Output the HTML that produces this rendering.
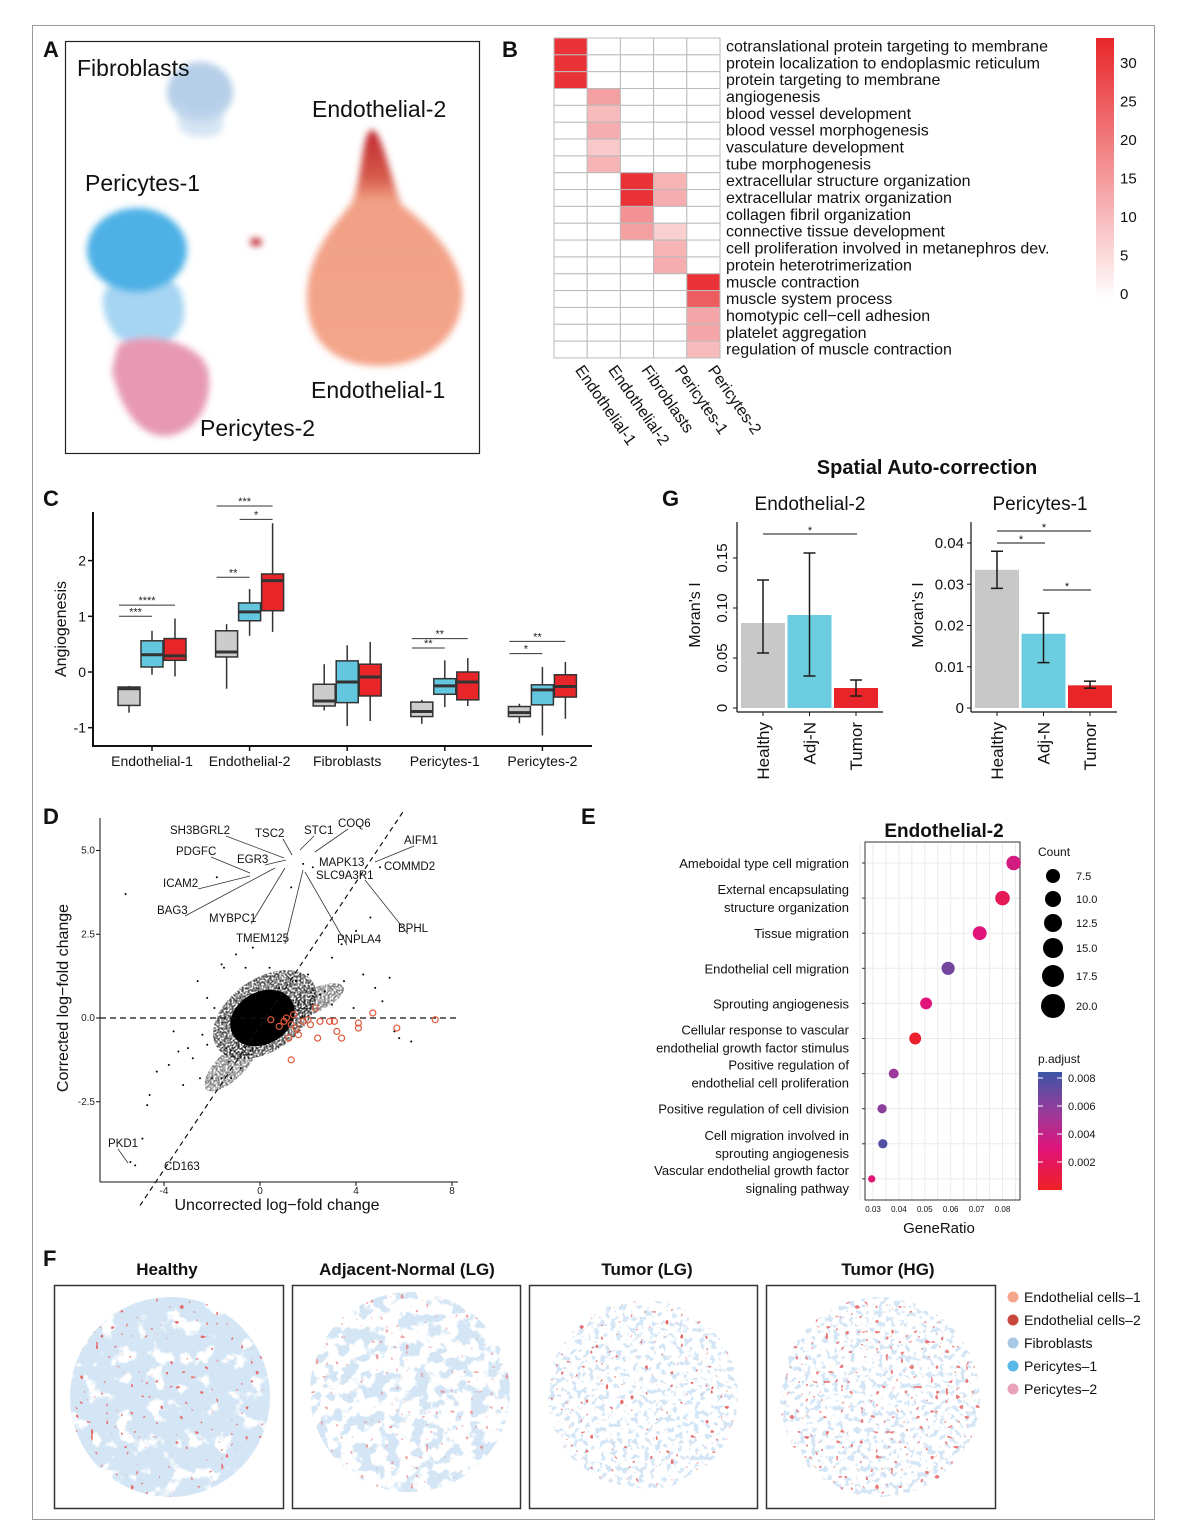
<!DOCTYPE html>
<html><head><meta charset="utf-8"><style>
html,body{margin:0;padding:0;background:#fff}
svg{display:block;font-family:"Liberation Sans",sans-serif}
</style></head><body>
<svg id="fig" width="1181" height="1537" viewBox="0 0 1181 1537" xmlns="http://www.w3.org/2000/svg">
<defs>
<filter id="blur2" x="-20%" y="-20%" width="140%" height="140%"><feGaussianBlur stdDeviation="3.5"/></filter>
<filter id="grain" x="0" y="0" width="100%" height="100%">
 <feTurbulence type="fractalNoise" baseFrequency="0.5" numOctaves="1" seed="4" result="n"/>
 <feColorMatrix in="n" type="matrix" values="0 0 0 0 1 0 0 0 0 1 0 0 0 0 1 -4 0 0 0 2.4" result="w"/>
 <feComposite in="SourceGraphic" in2="w" operator="out"/>
</filter>
<linearGradient id="endo" x1="0" y1="0" x2="0" y2="1">
 <stop offset="0" stop-color="#c0282e"/><stop offset="0.2" stop-color="#d65a4c"/><stop offset="0.3" stop-color="#f2a085"/><stop offset="1" stop-color="#f4a58a"/>
</linearGradient>
<linearGradient id="hmbar" x1="0" y1="0" x2="0" y2="1">
 <stop offset="0" stop-color="#e8262a"/><stop offset="1" stop-color="#ffffff"/>
</linearGradient>
<linearGradient id="pbar" x1="0" y1="0" x2="0" y2="1">
 <stop offset="0" stop-color="#3d55a6"/><stop offset="0.35" stop-color="#9b3a9a"/><stop offset="0.65" stop-color="#e0147a"/><stop offset="1" stop-color="#ee2024"/>
</linearGradient>
<filter id="tissueDense" x="0" y="0" width="100%" height="100%">
 <feTurbulence type="fractalNoise" baseFrequency="0.06" numOctaves="3" seed="7" result="n"/>
 <feColorMatrix in="n" type="matrix" values="0 0 0 0 0.66 0 0 0 0 0.79 0 0 0 0 0.91 9 0 0 0 -2.8" result="b"/>
 <feComposite in="b" in2="SourceGraphic" operator="in"/>
</filter>
<filter id="tissueMid" x="0" y="0" width="100%" height="100%">
 <feTurbulence type="fractalNoise" baseFrequency="0.07" numOctaves="3" seed="11" result="n"/>
 <feColorMatrix in="n" type="matrix" values="0 0 0 0 0.66 0 0 0 0 0.79 0 0 0 0 0.91 12 0 0 0 -5.9" result="b"/>
 <feComposite in="b" in2="SourceGraphic" operator="in"/>
</filter>
<filter id="tissueSparse" x="0" y="0" width="100%" height="100%">
 <feTurbulence type="fractalNoise" baseFrequency="0.18" numOctaves="2" seed="5" result="n"/>
 <feColorMatrix in="n" type="matrix" values="0 0 0 0 0.66 0 0 0 0 0.79 0 0 0 0 0.91 12 0 0 0 -6.6" result="b"/>
 <feComposite in="b" in2="SourceGraphic" operator="in"/>
</filter>
<filter id="redDots" x="0" y="0" width="100%" height="100%">
 <feTurbulence type="fractalNoise" baseFrequency="0.2" numOctaves="1" seed="9" result="n"/>
 <feColorMatrix in="n" type="matrix" values="0 0 0 0 0.8 0 0 0 0 0.15 0 0 0 0 0.15 30 0 0 0 -21" result="b"/>
 <feComposite in="b" in2="SourceGraphic" operator="in"/>
</filter>
<filter id="redDotsMany" x="0" y="0" width="100%" height="100%">
 <feTurbulence type="fractalNoise" baseFrequency="0.2" numOctaves="1" seed="13" result="n"/>
 <feColorMatrix in="n" type="matrix" values="0 0 0 0 0.82 0 0 0 0 0.2 0 0 0 0 0.2 25 0 0 0 -17" result="b"/>
 <feComposite in="b" in2="SourceGraphic" operator="in"/>
</filter>
</defs>
<rect x="32.5" y="25.5" width="1122" height="1494" fill="none" stroke="#999" stroke-width="1"/>

<g font-size="22" font-weight="bold" fill="#111">
<text x="43" y="57">A</text>
<text x="502" y="57">B</text>
<text x="43" y="506">C</text>
<text x="662" y="506">G</text>
<text x="43" y="824">D</text>
<text x="581" y="824">E</text>
<text x="43" y="1266">F</text>
</g>

<g>
<rect x="65.5" y="41.5" width="414" height="412" fill="#fff" stroke="#222" stroke-width="1.2"/>
<g filter="url(#blur2)">
<ellipse cx="200" cy="92" rx="33" ry="30" fill="#b6cfe9"/>
<path d="M174,100 C190,120 215,118 226,100 L222,132 C205,140 190,138 180,130 Z" fill="#c5d9ee" opacity="0.7"/>
<path d="M105,290 C120,275 170,270 180,290 C188,310 185,330 170,340 C150,345 125,345 115,335 C105,320 100,305 105,290 Z" fill="#8fcbef" opacity="0.8"/>
<ellipse cx="137" cy="250" rx="50" ry="42" fill="#4eb1e6"/>
<path d="M118,345 C140,330 200,340 208,370 C215,410 190,435 165,436 C135,436 118,400 112,370 Z" fill="#e799b4"/>
<path d="M372,130 C382,130 392,185 402,205 C432,228 466,262 462,302 C458,342 420,366 380,366 C338,366 308,345 307,300 C306,252 338,222 352,202 C362,182 362,130 372,130 Z" fill="url(#endo)"/>
<ellipse cx="256" cy="242" rx="6" ry="4" fill="#c22a2e"/>
</g>
<g font-size="23" fill="#111">
<text x="77" y="76">Fibroblasts</text>
<text x="312" y="117">Endothelial-2</text>
<text x="85" y="191">Pericytes-1</text>
<text x="311" y="398">Endothelial-1</text>
<text x="200" y="436">Pericytes-2</text>
</g>
</g>

<g id="heatmap"></g>
<g id="boxplot"></g>
<g id="moran"></g>
<g id="scatterD"></g>
<g id="dotE"></g>

<g>
<g font-size="17" fill="#111" text-anchor="middle" font-weight="bold">
<text x="167" y="1275">Healthy</text>
<text x="407" y="1275">Adjacent-Normal (LG)</text>
<text x="647" y="1275">Tumor (LG)</text>
<text x="888" y="1275">Tumor (HG)</text>
</g>
<rect x="54.5" y="1285.5" width="229" height="223" fill="#fff" stroke="#333" stroke-width="1.5"/>
<rect x="292.5" y="1285.5" width="228" height="223" fill="#fff" stroke="#333" stroke-width="1.5"/>
<rect x="529.5" y="1285.5" width="228" height="223" fill="#fff" stroke="#333" stroke-width="1.5"/>
<rect x="766.5" y="1285.5" width="229" height="223" fill="#fff" stroke="#333" stroke-width="1.5"/>
<circle cx="170" cy="1397" r="100" fill="#000" filter="url(#tissueDense)"/>
<circle cx="170" cy="1397" r="100" fill="#000" filter="url(#redDots)"/>
<circle cx="410" cy="1392" r="100" fill="#000" filter="url(#tissueMid)"/>
<circle cx="410" cy="1392" r="100" fill="#000" filter="url(#redDots)" opacity="0.6"/>
<circle cx="643" cy="1395" r="95" fill="#000" filter="url(#tissueSparse)"/>
<circle cx="643" cy="1395" r="95" fill="#000" filter="url(#redDots)"/>
<circle cx="880" cy="1397" r="100" fill="#000" filter="url(#tissueSparse)"/>
<circle cx="880" cy="1397" r="100" fill="#000" filter="url(#redDotsMany)"/>
<g font-size="14" fill="#111">
<circle cx="1013" cy="1297" r="5.5" fill="#f4a58a"/><text x="1024" y="1302">Endothelial cells–1</text>
<circle cx="1013" cy="1320" r="5.5" fill="#c8483e"/><text x="1024" y="1325">Endothelial cells–2</text>
<circle cx="1013" cy="1343" r="5.5" fill="#a9c8e8"/><text x="1024" y="1348">Fibroblasts</text>
<circle cx="1013" cy="1366" r="5.5" fill="#5ab8e8"/><text x="1024" y="1371">Pericytes–1</text>
<circle cx="1013" cy="1389" r="5.5" fill="#eaa2ba"/><text x="1024" y="1394">Pericytes–2</text>
</g>
</g>
</svg>
<script>
const NS="http://www.w3.org/2000/svg";
function mk(tag,attrs,parent,txt){const e=document.createElementNS(NS,tag);for(const k in attrs)e.setAttribute(k,attrs[k]);if(txt!==undefined)e.textContent=txt;parent.appendChild(e);return e;}

const hmTerms=["cotranslational protein targeting to membrane","protein localization to endoplasmic reticulum","protein targeting to membrane","angiogenesis","blood vessel development","blood vessel morphogenesis","vasculature development","tube morphogenesis","extracellular structure organization","extracellular matrix organization","collagen fibril organization","connective tissue development","cell proliferation involved in metanephros dev.","protein heterotrimerization","muscle contraction","muscle system process","homotypic cell−cell adhesion","platelet aggregation","regulation of muscle contraction"];
const hmCells=["Endothelial-1","Endothelial-2","Fibroblasts","Pericytes-1","Pericytes-2"];
const hmVals=[
[30,0,0,0,0],[30,0,0,0,0],[30,0,0,0,0],
[0,14,0,0,0],[0,10,0,0,0],[0,12,0,0,0],[0,8,0,0,0],[0,11,0,0,0],
[0,0,30,11,0],[0,0,30,12,0],[0,0,16,0,0],[0,0,14,7,0],
[0,0,0,11,0],[0,0,0,12,0],
[0,0,0,0,30],[0,0,0,0,24],[0,0,0,0,13],[0,0,0,0,13],[0,0,0,0,10]];
const hmTicks=[0,5,10,15,20,25,30];
(function(){
 const g=document.getElementById('heatmap');
 const x0=554,y0=38,cw=33.2,rh=16.84;
 function col(v){const t=Math.min(v/32,1);const r=255+(232-255)*t,gg=255+(38-255)*t,b=255+(42-255)*t;return `rgb(${r|0},${gg|0},${b|0})`;}
 hmVals.forEach((row,i)=>row.forEach((v,j)=>{
  const c=mk('rect',{x:x0+j*cw,y:y0+i*rh,width:cw,height:rh,fill:col(v),stroke:"#bbb","stroke-width":1},g);
  
  
 }));
 hmTerms.forEach((t,i)=>{
  const e=mk('text',{x:726,y:y0+i*rh+13.5,"font-size":16,fill:"#111"},g,t);
  
  
 });
 hmCells.forEach((t,j)=>{
  const cx=x0+j*cw+cw/2+4;
  const e=mk('text',{x:cx,y:370,"font-size":16,fill:"#111",transform:`rotate(55 ${cx} 370)`},g,t);
  
  
 });
 const bar=mk('rect',{x:1096,y:38,width:18,height:262,fill:"url(#hmbar)"},g);
 
 
 hmTicks.forEach(v=>{
  const y=293-(v/30)*231;
  const e=mk('text',{x:1120,y:y+6,"font-size":15,fill:"#111"},g,String(v));
  
  
 });
})();

const bxGroups=["Endothelial-1","Endothelial-2","Fibroblasts","Pericytes-1","Pericytes-2"];
const bxLo=[[-0.73,-0.05,-0.08],[-0.3,0.65,0.72],[-0.69,-0.97,-0.88],[-0.93,-0.63,-0.61],[-0.92,-1.14,-0.84]];
const bxQ1=[[-0.6,0.09,0.21],[0.27,0.92,1.1],[-0.61,-0.55,-0.43],[-0.8,-0.4,-0.5],[-0.8,-0.59,-0.45]];
const bxMed=[[-0.3,0.31,0.29],[0.36,1.08,1.64],[-0.52,-0.18,-0.09],[-0.71,-0.25,-0.18],[-0.73,-0.32,-0.26]];
const bxQ3=[[-0.27,0.56,0.6],[0.74,1.24,1.76],[-0.22,0.2,0.14],[-0.54,-0.12,0.0],[-0.62,-0.23,-0.05]];
const bxHi=[[-0.25,0.74,0.96],[0.86,1.49,2.67],[0.14,0.48,0.54],[-0.5,0.21,0.25],[-0.57,0.09,0.18]];
const bxSig=[[0,0,1,1.0,"***"],[0,0,2,1.2,"****"],[1,0,2,2.98,"***"],[1,1,2,2.74,"*"],[1,0,1,1.7,"**"],[3,0,1,0.43,"**"],[3,0,2,0.6,"**"],[4,0,1,0.33,"*"],[4,0,2,0.55,"**"]];
const bxTicks=[-1,0,1,2];
(function(){
 const g=document.getElementById('boxplot');
 const y=v=>672-v*55.7, cx=i=>152+i*97.6, off=[-23,0,23], fills=["#cccccc","#63c7df","#e8262a"];
 mk('line',{x1:93,y1:512,x2:93,y2:746,stroke:"#111","stroke-width":2},g);
 mk('line',{x1:92,y1:746,x2:592,y2:746,stroke:"#111","stroke-width":2},g);
 bxTicks.forEach(v=>{mk('line',{x1:88,y1:y(v),x2:93,y2:y(v),stroke:"#111","stroke-width":1.5},g);
  const t=mk('text',{x:86,y:y(v)+5,"font-size":14,"text-anchor":"end",fill:"#111"},g,String(v));
  });
 const yt=mk('text',{x:66,y:629,"font-size":16,"text-anchor":"middle",fill:"#111",transform:"rotate(-90 66 629)"},g,"Angiogenesis");
 
 bxGroups.forEach((n,i)=>{
  mk('line',{x1:cx(i),y1:746,x2:cx(i),y2:751,stroke:"#111","stroke-width":1.5},g);
  const t=mk('text',{x:cx(i),y:766,"font-size":14,"text-anchor":"middle",fill:"#111"},g,n);
  
  for(let k=0;k<3;k++){
   const x=cx(i)+off[k];
   mk('line',{x1:x,y1:y(bxHi[i][k]),x2:x,y2:y(bxLo[i][k]),stroke:"#333","stroke-width":1.5},g);
   const b=mk('rect',{x:x-11,y:y(bxQ3[i][k]),width:22,height:y(bxQ1[i][k])-y(bxQ3[i][k]),fill:fills[k],stroke:"#333","stroke-width":1.5},g);
   
   mk('line',{x1:x-11,y1:y(bxMed[i][k]),x2:x+11,y2:y(bxMed[i][k]),stroke:"#333","stroke-width":3},g);
  }
 });
 bxSig.forEach(s=>{
  const x1=cx(s[0])+off[s[1]]-10,x2=cx(s[0])+off[s[2]]+0, yy=y(s[3]);
  mk('line',{x1:x1,y1:yy,x2:x2,y2:yy,stroke:"#333","stroke-width":1},g);
  const t=mk('text',{x:(x1+x2)/2,y:yy-1,"font-size":11,"text-anchor":"middle",fill:"#222"},g,s[4]);
  
 });
})();

const gCats=["Healthy","Adj-N","Tumor"];
const gEndoVals=[0.085,0.093,0.02];
const gEndoLo=[0.055,0.032,0.012];
const gEndoHi=[0.128,0.155,0.028];
const gEndoTicks=[0,0.05,0.10,0.15];
const gPeriVals=[0.0335,0.018,0.0055];
const gPeriLo=[0.029,0.011,0.0048];
const gPeriHi=[0.038,0.023,0.0065];
const gPeriTicks=[0,0.01,0.02,0.03,0.04];
(function(){
 const g=document.getElementById('moran');
 const fills=["#c8c8c8","#6ccde0","#e8262a"];
 const t0=mk('text',{x:927,y:474,"font-size":20,"text-anchor":"middle",fill:"#111","font-weight":"bold"},g,"Spatial Auto-correction");
 
 function panel(title,tx,ax,vals,lo,hi,ticks,scale,rotTicks,labFmt,ylx){
  const y=v=>708-v*scale;
  const t=mk('text',{x:tx,y:510,"font-size":19,"text-anchor":"middle",fill:"#111"},g,title);
  
  mk('line',{x1:ax,y1:522,x2:ax,y2:712,stroke:"#111","stroke-width":1.2},g);
  mk('line',{x1:ax,y1:712,x2:ax+146,y2:712,stroke:"#111","stroke-width":1.2},g);
  ticks.forEach(v=>{
   mk('line',{x1:ax-4,y1:y(v),x2:ax,y2:y(v),stroke:"#111"},g);
   let e;
   if(rotTicks){e=mk('text',{x:ax-10,y:y(v),"font-size":15,"text-anchor":"middle",fill:"#111",transform:`rotate(-90 ${ax-10} ${y(v)})`},g,labFmt(v));}
   else{e=mk('text',{x:ax-7,y:y(v)+5,"font-size":15,"text-anchor":"end",fill:"#111"},g,labFmt(v));}
   
  });
  const yt=mk('text',{x:ylx,y:615,"font-size":16,"text-anchor":"middle",fill:"#111",transform:`rotate(-90 ${ylx} 615)`},g,"Moran's I");
  
  vals.forEach((v,i)=>{
   const cx=ax+26+i*46.5;
   const b=mk('rect',{x:cx-22,y:y(v),width:44,height:y(0)-y(v),fill:fills[i]},g);
   
   mk('line',{x1:cx,y1:y(hi[i]),x2:cx,y2:y(lo[i]),stroke:"#1a1a1a","stroke-width":1.5},g);
   mk('line',{x1:cx-6,y1:y(hi[i]),x2:cx+6,y2:y(hi[i]),stroke:"#1a1a1a","stroke-width":1.5},g);
   mk('line',{x1:cx-6,y1:y(lo[i]),x2:cx+6,y2:y(lo[i]),stroke:"#1a1a1a","stroke-width":1.5},g);
   mk('line',{x1:cx,y1:712,x2:cx,y2:716,stroke:"#111"},g);
   const xl=mk('text',{x:cx+6,y:722,"font-size":17,"text-anchor":"end",fill:"#111",transform:`rotate(-90 ${cx+6} 722)`},g,gCats[i]);
   
  });
  return y;
 }
 panel("Endothelial-2",810,737,gEndoVals,gEndoLo,gEndoHi,gEndoTicks,1000,true,v=>v===0?"0":v.toFixed(2),700);
 mk('line',{x1:763,y1:534,x2:857,y2:534,stroke:"#111"},g);
 mk('text',{x:810,y:534,"font-size":11,"text-anchor":"middle",fill:"#111"},g,"*");
 panel("Pericytes-1",1040,971,gPeriVals,gPeriLo,gPeriHi,gPeriTicks,4125,false,v=>v===0?"0":v.toFixed(2),923);
 [[997,1091,531],[997,1045,543],[1043,1091,590]].forEach(b=>{mk('line',{x1:b[0],y1:b[2],x2:b[1],y2:b[2],stroke:"#111"},g);
  mk('text',{x:(b[0]+b[1])/2,y:b[2],"font-size":11,"text-anchor":"middle",fill:"#111"},g,"*");});
})();

const dHighX=[0.45,1.0,1.3,1.5,1.2,1.6,2.3,2.5,2.9,3.1,3.2,3.4,4.1,4.1,4.7,5.7,7.3,1.3,2.4,2.1,1.8,0.8,1.1,1.4,2.0];
const dHighY=[-0.05,-0.1,-0.2,-0.3,-0.6,-0.5,0.3,-0.1,-0.1,-0.1,-0.4,-0.6,-0.15,-0.3,0.15,-0.3,-0.05,-1.25,-0.6,-0.2,-0.1,-0.25,0.0,0.1,-0.05];
const dOutX=[-5.6,-4.3,-4.6,-4.7,-3.6,-3.4,-3.0,-2.6,-2.2,-1.9,-1.6,-1.3,-1.0,-0.6,-0.3,0.4,0.8,1.1,1.5,2.0,2.5,3.0,3.5,3.9,4.3,4.8,5.1,5.4,5.6,5.8,6.3,-4.9,-5.4,-5.2,-2.2,-1.5,1.3,1.8,2.2,5.0,-1.8,-3.8,-2.5,-2.0,-1.6,-1.2,-3.2,-2.8,3.0,3.4,4.0,4.6,2.7,-0.8,-1.4,-2.4];
const dOutY=[3.7,-1.6,-2.3,-2.6,-0.4,-1.0,-0.9,1.1,-0.8,0.3,1.6,-1.3,1.9,1.5,2.1,1.5,0.9,0.6,1.1,1.3,0.7,0.4,1.1,0.3,1.3,0.9,0.5,1.2,-0.4,-0.6,-0.7,-3.6,-4.3,-4.4,0.6,1.5,3.9,4.6,4.5,4.5,4.2,-1.4,-1.8,-1.8,-1.8,-1.8,-2.0,-1.2,1.8,2.2,2.6,3.0,0.8,-1.5,-0.9,-0.5];
const dLabels=[["SH3BGRL2",170,834,284,858],["TSC2",255,837,292,855],["STC1",304,834,300,850],["COQ6",338,827,315,852],["AIFM1",404,844,375,862],["PDGFC",176,855,250,873],["EGR3",237,863,286,860],["MAPK13",319,866,0,0],["COMMD2",384,870,0,0],["SLC9A3R1",316,879,0,0],["ICAM2",163,887,250,876],["BAG3",157,914,275,868],["MYBPC1",209,922,285,868],["BPHL",398,932,365,880],["TMEM125",236,942,303,870],["PNPLA4",337,943,305,872],["PKD1",108,1147,128,1163],["CD163",164,1170,0,0]];
const dXTicks=[-4,0,4,8];
const dYTicks=[5.0,2.5,0.0,-2.5];
(function(){
 const g=document.getElementById('scatterD');
 const X=v=>260+v*24, Y=v=>1018-v*33.5;
 mk('line',{x1:100,y1:818,x2:100,y2:1182,stroke:"#111","stroke-width":1},g);
 mk('line',{x1:100,y1:1182,x2:458,y2:1182,stroke:"#111","stroke-width":1},g);
 dXTicks.forEach(v=>{mk('line',{x1:X(v),y1:1182,x2:X(v),y2:1186,stroke:"#111"},g);
  const t=mk('text',{x:X(v),y:1194,"font-size":10,"text-anchor":"middle",fill:"#222"},g,String(v));
  });
 dYTicks.forEach(v=>{mk('line',{x1:96,y1:Y(v),x2:100,y2:Y(v),stroke:"#111"},g);
  const t=mk('text',{x:95,y:Y(v)+3,"font-size":10,"text-anchor":"end",fill:"#222"},g,v.toFixed(1));
  });
 const xt=mk('text',{x:277,y:1210,"font-size":16,"text-anchor":"middle",fill:"#111"},g,"Uncorrected log−fold change");
 
 const yt=mk('text',{x:68,y:998,"font-size":16,"text-anchor":"middle",fill:"#111",transform:"rotate(-90 68 998)"},g,"Corrected log−fold change");
 
 const cl=mk('g',{filter:"url(#grain)"},g);
 mk('ellipse',{cx:X(0.2),cy:Y(0.1),rx:58,ry:36,fill:"#000",opacity:0.7,transform:`rotate(-35 ${X(0.2)} ${Y(0.1)})`},cl);
 mk('ellipse',{cx:X(-1.2),cy:Y(-1.4),rx:35,ry:14,fill:"#000",opacity:0.5,transform:`rotate(-45 ${X(-1.2)} ${Y(-1.4)})`},cl);
 mk('ellipse',{cx:X(2.2),cy:Y(0.5),rx:34,ry:12,fill:"#000",opacity:0.5,transform:`rotate(-25 ${X(2.2)} ${Y(0.5)})`},cl);
 mk('ellipse',{cx:X(0.1),cy:Y(0),rx:34,ry:26,fill:"#000",transform:`rotate(-30 ${X(0.1)} ${Y(0)})`},g);
 mk('line',{x1:X(-5),y1:Y(-5.6),x2:X(6),y2:Y(6.2),stroke:"#111","stroke-width":1.2,"stroke-dasharray":"5,4"},g);
 mk('line',{x1:100,y1:Y(0),x2:456,y2:Y(0),stroke:"#111","stroke-width":1.2,"stroke-dasharray":"6,4"},g);
 dOutX.forEach((v,i)=>{const p=mk('circle',{cx:X(v),cy:Y(dOutY[i]),r:1,fill:"#000"},g);
  });
 dHighX.forEach((v,i)=>{const p=mk('circle',{cx:X(v),cy:Y(dHighY[i]),r:3,fill:"none",stroke:"#e05a3c","stroke-width":1.2},g);
  });
 dLabels.forEach(l=>{
  const t=mk('text',{x:l[1],y:l[2],"font-size":11.5,fill:"#111"},g,l[0]);
  
  if(l[3])mk('line',{x1:l[1]+(l[3]>l[1]+30?l[0].length*7:10),y1:l[2]+2,x2:l[3],y2:l[4],stroke:"#333","stroke-width":0.8},g);
 });
})();

const eTerms=[["Ameboidal type cell migration"],["External encapsulating","structure organization"],["Tissue migration"],["Endothelial cell migration"],["Sprouting angiogenesis"],["Cellular response to vascular","endothelial growth factor stimulus"],["Positive regulation of","endothelial cell proliferation"],["Positive regulation of cell division"],["Cell migration involved in","sprouting angiogenesis"],["Vascular endothelial growth factor","signaling pathway"]];
const eRatio=[0.0843,0.0800,0.0712,0.0590,0.0505,0.0463,0.0380,0.0335,0.0338,0.0295];
const eCount=[19,19,18,17,15,15,12,11,11,8];
const ePadj=[0.0035,0.002,0.003,0.0068,0.003,0.0008,0.0055,0.006,0.0079,0.0028];
const eXTicks=[0.03,0.04,0.05,0.06,0.07,0.08];
const eLegCount=[7.5,10.0,12.5,15.0,17.5,20.0];
const ePTicks=[0.008,0.006,0.004,0.002];
(function(){
 const g=document.getElementById('dotE');
 const X=v=>873+(v-0.03)*2590, Y=i=>863+i*35.1;
 const tt=mk('text',{x:944,y:837,"font-size":19,"text-anchor":"middle",fill:"#111","font-weight":"bold"},g,"Endothelial-2");
 
 for(let v=0.025;v<0.09;v+=0.005){mk('line',{x1:X(v),y1:843,x2:X(v),y2:1200,stroke:"#ebebeb","stroke-width":1},g);}
 eTerms.forEach((t,i)=>mk('line',{x1:865,y1:Y(i),x2:1020,y2:Y(i),stroke:"#ebebeb"},g));
 mk('rect',{x:865,y:842,width:155,height:358,fill:"none",stroke:"#333","stroke-width":1},g);
 eXTicks.forEach(v=>{const t=mk('text',{x:X(v),y:1212,"font-size":8,"text-anchor":"middle",fill:"#111"},g,v.toFixed(2));
  });
 const xt=mk('text',{x:939,y:1233,"font-size":15,"text-anchor":"middle",fill:"#111"},g,"GeneRatio");
 
 function pcol(p){const stops=[[0.0005,[238,32,36]],[0.003,[224,20,122]],[0.0055,[155,58,154]],[0.0085,[61,85,166]]];
  for(let k=0;k<stops.length-1;k++){if(p<=stops[k+1][0]){const t=Math.max(0,(p-stops[k][0])/(stops[k+1][0]-stops[k][0]));const a=stops[k][1],b=stops[k+1][1];return `rgb(${a.map((c,j)=>Math.round(c+(b[j]-c)*t)).join(',')})`;}}return "rgb(61,85,166)";}
 eTerms.forEach((lines,i)=>{
  const n=lines.length;
  lines.forEach((l,k)=>{const t=mk('text',{x:849,y:Y(i)+5+(k-(n-1)/2)*18,"font-size":13,"text-anchor":"end",fill:"#111"},g,l);
   });
  mk('line',{x1:862,y1:Y(i),x2:865,y2:Y(i),stroke:"#333"},g);
  const d=mk('circle',{cx:X(eRatio[i]),cy:Y(i),r:1+eCount[i]*0.33,fill:pcol(ePadj[i])},g);
  
 });
 mk('text',{x:1038,y:856,"font-size":12,fill:"#111"},g,"Count");
 eLegCount.forEach((c,i)=>{const yy=[876,899,923,948,976,1006][i];
  mk('circle',{cx:1053,cy:yy,r:4+c*0.4,fill:"#000"},g);
  const t=mk('text',{x:1076,y:yy+4,"font-size":11,fill:"#111"},g,c.toFixed(1));
  });
 mk('text',{x:1038,y:1063,"font-size":12,fill:"#111"},g,"p.adjust");
 mk('rect',{x:1038,y:1072,width:24,height:118,fill:"url(#pbar)"},g);
 ePTicks.forEach((p,i)=>{const yy=1078+i*28;
  mk('line',{x1:1038,y1:yy,x2:1043,y2:yy,stroke:"#fff"},g);mk('line',{x1:1057,y1:yy,x2:1062,y2:yy,stroke:"#fff"},g);
  const t=mk('text',{x:1068,y:yy+4,"font-size":11,fill:"#111"},g,p.toFixed(3));
  });
})();
</script>
</body></html>
